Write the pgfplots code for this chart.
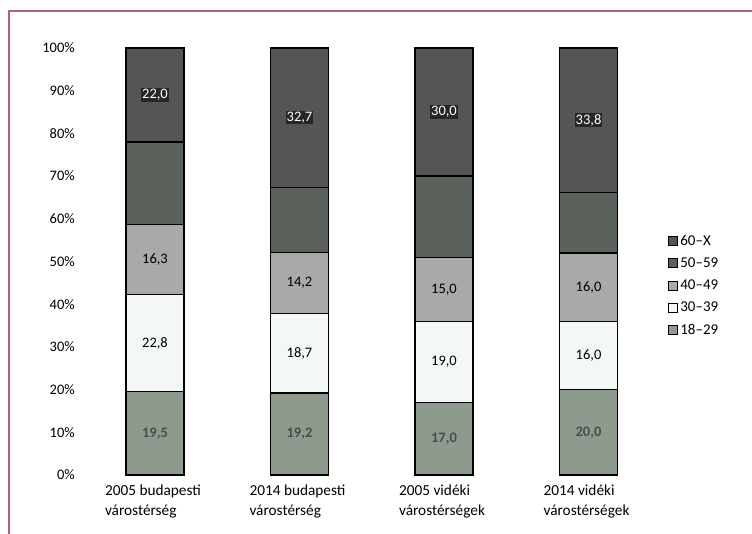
\documentclass[border=0pt]{standalone}
\usepackage{pgfplots}
\pgfplotsset{compat=1.18}
\usepackage{fontspec}
\setmainfont{Carlito}
\definecolor{cA}{HTML}{8E9A8E}
\definecolor{cB}{HTML}{F3F8F7}
\definecolor{cC}{HTML}{A9A9A9}
\definecolor{cD}{HTML}{5A625B}
\definecolor{cE}{HTML}{555555}
\definecolor{framec}{HTML}{B0607A}
\begin{document}
\begin{tikzpicture}
\path[use as bounding box] (0pt,0pt) rectangle (752pt,534pt);
\draw[framec, line width=1.2pt] (9pt,0pt) -- (9pt,523pt) -- (752pt,523pt);
\begin{axis}[at={(82.75pt,59pt)}, anchor=south west, scale only axis,
  width=578pt, height=427pt,
  ybar stacked, bar width=58pt,
  xmin=-0.5, xmax=3.5, ymin=0, ymax=100,
  axis line style={draw=none}, tick style={draw=none},
  ytick={0,10,...,100},
  yticklabels={0\%,10\%,20\%,30\%,40\%,50\%,60\%,70\%,80\%,90\%,100\%},
  yticklabel style={anchor=east, inner sep=0pt, xshift=-7.75pt, font=\fontsize{14.5}{17}\selectfont},
  xtick={0,1,2,3},
  xticklabels={{2005 budapesti\\várostérség},{2014 budapesti\\várostérség},{2005 vidéki\\várostérségek},{2014 vidéki\\várostérségek}},
  xticklabel style={align=left, anchor=north, inner sep=0pt, yshift=-10pt, xshift=-2pt, font=\fontsize{15.3}{20}\selectfont},
  reverse legend,
  legend style={at={(1.013,0.567)}, anchor=north west, draw=none, fill=none,
    font=\fontsize{15}{17}\selectfont, row sep=7pt, inner sep=0pt},
  legend cell align=left,
  legend image code/.code={\draw[#1, draw=black, line width=0.9pt] (0pt,-4.5pt) rectangle (9pt,4.5pt);},
  clip=false,
]
\addplot[fill=cA, draw=black, line width=1.3pt] coordinates {(0,19.5)(1,19.2)(2,17.0)(3,20.0)};
\addplot[fill=cB, draw=black, line width=1.3pt] coordinates {(0,22.8)(1,18.7)(2,19.0)(3,16.0)};
\addplot[fill=cC, draw=black, line width=1.3pt] coordinates {(0,16.3)(1,14.2)(2,15.0)(3,16.0)};
\addplot[fill=cD, draw=black, line width=1.3pt] coordinates {(0,19.4)(1,15.2)(2,19.0)(3,14.2)};
\addplot[fill=cE, draw=black, line width=1.3pt] coordinates {(0,22.0)(1,32.7)(2,30.0)(3,33.8)};
\legend{18--29,30--39,40--49,50--59,60--X}
\end{axis}
\begin{axis}[at={(82.75pt,59pt)}, anchor=south west, scale only axis,
  width=578pt, height=427pt,
  xmin=-0.5, xmax=3.5, ymin=0, ymax=100, hide axis, clip=false,
  nodes near coords, point meta=explicit symbolic,
  every node near coord/.append style={anchor=center, font=\fontsize{14.5}{16}\selectfont},
]
\addplot[draw=none, mark=none, every node near coord/.append style={text=white, fill=black!85, inner sep=1pt}]
  table[meta=lab] {
x y lab
0 89.0 22,0
1 83.65 32,7
2 85.0 30,0
3 83.1 33,8
};
\addplot[draw=none, mark=none, every node near coord/.append style={text=black}]
  table[meta=lab] {
x y lab
0 50.45 16,3
1 45.0 14,2
2 43.5 15,0
3 44.0 16,0
0 30.9 22,8
1 28.55 18,7
2 26.5 19,0
3 28.0 16,0
};
\addplot[draw=none, mark=none, every node near coord/.append style={text=black!70, font=\fontsize{14.5}{16}\selectfont\bfseries}]
  table[meta=lab] {
x y lab
0 9.75 19,5
1 9.6 19,2
2 8.5 17,0
3 10.0 20,0
};
\end{axis}
\end{tikzpicture}
\end{document}
